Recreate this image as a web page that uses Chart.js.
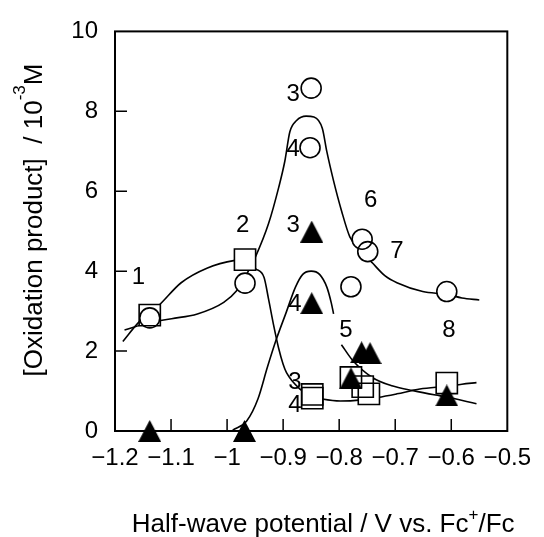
<!DOCTYPE html>
<html>
<head>
<meta charset="utf-8">
<script src="https://cdn.jsdelivr.net/npm/chart.js@4"></script>
<style>
  html, body { margin: 0; padding: 0; background: #fff; }
  #wrap { width: 544px; height: 537px; }
</style>
</head>
<body>
<div id="wrap"><canvas id="c" width="544" height="537"></canvas></div>
<script>
// Measured oxidation product (10^-3 M) against half-wave potential (V vs. Fc+/Fc)
const squareX   = [-1.138, -0.968, -0.848, -0.848, -0.779, -0.758, -0.747, -0.608];
const squareY   = [2.90, 4.29, 0.915, 0.824, 1.34, 1.11, 0.93, 1.20];
const circleX   = [-1.138, -0.968, -0.850, -0.852, -0.779, -0.759, -0.749, -0.608];
const circleY   = [2.83, 3.70, 8.58, 7.09, 3.61, 4.80, 4.49, 3.49];
const triangleX = [-1.138, -0.969, -0.849, -0.849, -0.779, -0.760, -0.745, -0.608];
const triangleY = [0, 0, 4.99, 3.20, 1.32, 1.97, 1.95, 0.89];

// Hand-drawn trend curves
const squareFitX = [-1.186, -1.157, -1.122, -1.082, -1.035, -0.986, -0.968, -0.949, -0.934, -0.926, -0.917, -0.908, -0.900, -0.894, -0.870, -0.848, -0.830, -0.798, -0.760, -0.731, -0.697, -0.656, -0.608, -0.581, -0.555];
const squareFitY = [2.24, 2.73, 3.14, 3.71, 4.08, 4.27, 4.29, 4.06, 3.84, 3.30, 2.65, 2.07, 1.67, 1.46, 1.05, 0.86, 0.80, 0.75, 0.78, 0.84, 0.93, 1.05, 1.12, 1.17, 1.21];
const circleFitX = [-1.183, -1.139, -1.099, -1.053, -1.006, -0.983, -0.968, -0.949, -0.926, -0.908, -0.897, -0.888, -0.876, -0.859, -0.845, -0.830, -0.822, -0.810, -0.796, -0.781, -0.760, -0.741, -0.718, -0.697, -0.651, -0.608, -0.581, -0.550];
const circleFitY = [2.53, 2.71, 2.81, 2.93, 3.22, 3.51, 3.85, 4.37, 5.19, 6.09, 6.75, 7.49, 7.77, 7.88, 7.86, 7.57, 6.99, 6.26, 5.52, 4.86, 4.50, 4.21, 3.88, 3.71, 3.49, 3.42, 3.33, 3.28];
const triRiseX   = [-0.990, -0.965, -0.945, -0.928, -0.912, -0.895, -0.878, -0.865, -0.850, -0.835, -0.822, -0.814, -0.810];
const triRiseY   = [0.02, 0.25, 0.80, 1.60, 2.30, 2.95, 3.60, 3.92, 4.00, 3.92, 3.60, 3.20, 2.93];
const triFallX   = [-0.796, -0.775, -0.741, -0.706, -0.668, -0.628, -0.608, -0.555];
const triFallY   = [2.16, 1.75, 1.34, 1.13, 1.01, 0.90, 0.85, 0.68];

// Axis ticks
const xTickValues = [-1.2, -1.1, -1.0, -0.9, -0.8, -0.7, -0.6, -0.5];
const xTickLabels = ['\u22121.2', '\u22121.1', '\u22121', '\u22120.9', '\u22120.8', '\u22120.7', '\u22120.6', '\u22120.5'];
const yTickValues = [0, 2, 4, 6, 8, 10];
const yTickLabels = ['0', '2', '4', '6', '8', '10'];

// Compound numbers written beside the marks (data units)
const noteText = ['1', '2', '3', '4', '6', '7', '3', '4', '5', '8', '3', '4'];
const noteX    = [-1.158, -0.972, -0.882, -0.882, -0.744, -0.697, -0.882, -0.879, -0.788, -0.604, -0.879, -0.879];
const noteY    = [3.84, 5.15, 8.43, 7.06, 5.78, 4.49, 5.15, 3.18, 2.53, 2.51, 1.21, 0.64];

const FONT = '"Liberation Sans", Arial, Helvetica, sans-serif';

function pairs(xs, ys) { return xs.map((x, i) => ({ x: x, y: ys[i] })); }

function triangleGlyph(w, h) {
  const c = document.createElement('canvas');
  c.width = w; c.height = h;
  const g = c.getContext('2d');
  g.fillStyle = '#000';
  g.beginPath();
  g.moveTo(w / 2, 0);
  g.lineTo(w, h);
  g.lineTo(0, h);
  g.closePath();
  g.fill();
  return c;
}
const triGlyph = triangleGlyph(23, 22);

function curve(xs, ys) {
  return {
    type: 'line', data: pairs(xs, ys), borderColor: '#000', borderWidth: 1.6,
    pointRadius: 0, fill: false, cubicInterpolationMode: 'monotone', order: 10, clip: false
  };
}

const frameAndText = {
  id: 'frameAndText',
  afterDatasetsDraw(chart) {
    const ctx = chart.ctx;
    const xs = chart.scales.x, ys = chart.scales.y;
    ctx.save();
    ctx.fillStyle = '#000';
    ctx.font = '24px ' + FONT;
    ctx.textAlign = 'center';
    ctx.textBaseline = 'middle';
    noteText.forEach((t, i) => {
      ctx.fillText(t, xs.getPixelForValue(noteX[i]), ys.getPixelForValue(noteY[i]));
    });
    ctx.restore();
  },
  afterDraw(chart) {
    const ctx = chart.ctx;
    const a = chart.chartArea;
    const xs = chart.scales.x, ys = chart.scales.y;
    ctx.save();
    ctx.strokeStyle = '#000';
    ctx.lineWidth = 2;
    ctx.strokeRect(a.left, a.top, a.right - a.left, a.bottom - a.top);
    ctx.lineWidth = 1.5;
    ctx.beginPath();
    yTickValues.slice(1, -1).forEach(v => {
      const p = ys.getPixelForValue(v);
      ctx.moveTo(a.left, p); ctx.lineTo(a.left + 12, p);
    });
    xTickValues.slice(1, -1).forEach(v => {
      const p = xs.getPixelForValue(v);
      ctx.moveTo(p, a.bottom); ctx.lineTo(p, a.bottom - 12);
    });
    ctx.stroke();

    // x title with superscript
    ctx.fillStyle = '#000';
    ctx.textBaseline = 'alphabetic';
    ctx.textAlign = 'left';
    const main = '26px ' + FONT, sup = '17px ' + FONT;
    const xParts = [['Half-wave potential / V vs. Fc', main, 0], ['+', sup, -12], ['/Fc', main, 0]];
    let w = 0;
    xParts.forEach(p => { ctx.font = p[1]; w += ctx.measureText(p[0]).width; });
    let x = (a.left + a.right) / 2 + 12 - w / 2;
    const base = 532;
    xParts.forEach(p => { ctx.font = p[1]; ctx.fillText(p[0], x, base + p[2]); x += ctx.measureText(p[0]).width; });

    // y title, rotated, with superscript
    const yParts = [['[Oxidation product]  / 10', main, 0], ['-3', sup, -17], ['M', main, 0]];
    w = 0;
    yParts.forEach(p => { ctx.font = p[1]; w += ctx.measureText(p[0]).width; });
    ctx.translate(42, 220);
    ctx.rotate(-Math.PI / 2);
    x = -w / 2;
    yParts.forEach(p => { ctx.font = p[1]; ctx.fillText(p[0], x, p[2]); x += ctx.measureText(p[0]).width; });
    ctx.restore();
  }
};

new Chart(document.getElementById('c'), {
  type: 'scatter',
  data: {
    datasets: [
      curve(squareFitX, squareFitY),
      curve(circleFitX, circleFitY),
      curve(triRiseX, triRiseY),
      curve(triFallX, triFallY),
      { data: pairs(squareX, squareY), pointStyle: 'rect', pointRadius: 15, pointBackgroundColor: '#fff', pointBorderWidth: 0, pointBorderColor: '#fff', order: 9, clip: false },
      { data: pairs(circleX, circleY), pointStyle: 'circle', pointRadius: 10, pointBackgroundColor: '#fff', pointBorderWidth: 0, pointBorderColor: '#fff', order: 9, clip: false },
      { data: pairs(squareX, squareY), pointStyle: 'rect', pointRadius: 15, pointBackgroundColor: 'rgba(0,0,0,0)', pointBorderWidth: 1.6, pointBorderColor: '#000', order: 8, clip: false },
      { data: pairs(circleX, circleY), pointStyle: 'circle', pointRadius: 10, pointBackgroundColor: 'rgba(0,0,0,0)', pointBorderWidth: 1.6, pointBorderColor: '#000', order: 7, clip: false },
      { data: pairs(triangleX, triangleY), pointStyle: triGlyph, pointRadius: 11, order: 6, clip: false }
    ]
  },
  options: {
    responsive: false,
    devicePixelRatio: 1,
    animation: false,
    events: [],
    layout: { padding: { top: 24, right: 25, left: 0, bottom: 0 } },
    plugins: { legend: { display: false }, tooltip: { enabled: false } },
    scales: {
      x: {
        type: 'linear', min: -1.2, max: -0.5,
        grid: { display: false, drawTicks: false },
        border: { display: false },
        afterBuildTicks: s => { s.ticks = xTickValues.map(v => ({ value: v })); },
        afterFit: s => { s.height = 106; },
        ticks: {
          color: '#000', padding: 13, maxRotation: 0, autoSkip: false,
          font: { family: FONT, size: 24 },
          callback: (v, i) => xTickLabels[i]
        }
      },
      y: {
        type: 'linear', min: 0, max: 10,
        grid: { display: false, drawTicks: false },
        border: { display: false },
        afterBuildTicks: s => { s.ticks = yTickValues.map(v => ({ value: v })); },
        afterFit: s => { s.width = 115; },
        ticks: {
          color: '#000', padding: 17,
          font: { family: FONT, size: 24 },
          callback: (v, i) => yTickLabels[i]
        }
      }
    }
  },
  plugins: [frameAndText]
});
</script>
</body>
</html>
